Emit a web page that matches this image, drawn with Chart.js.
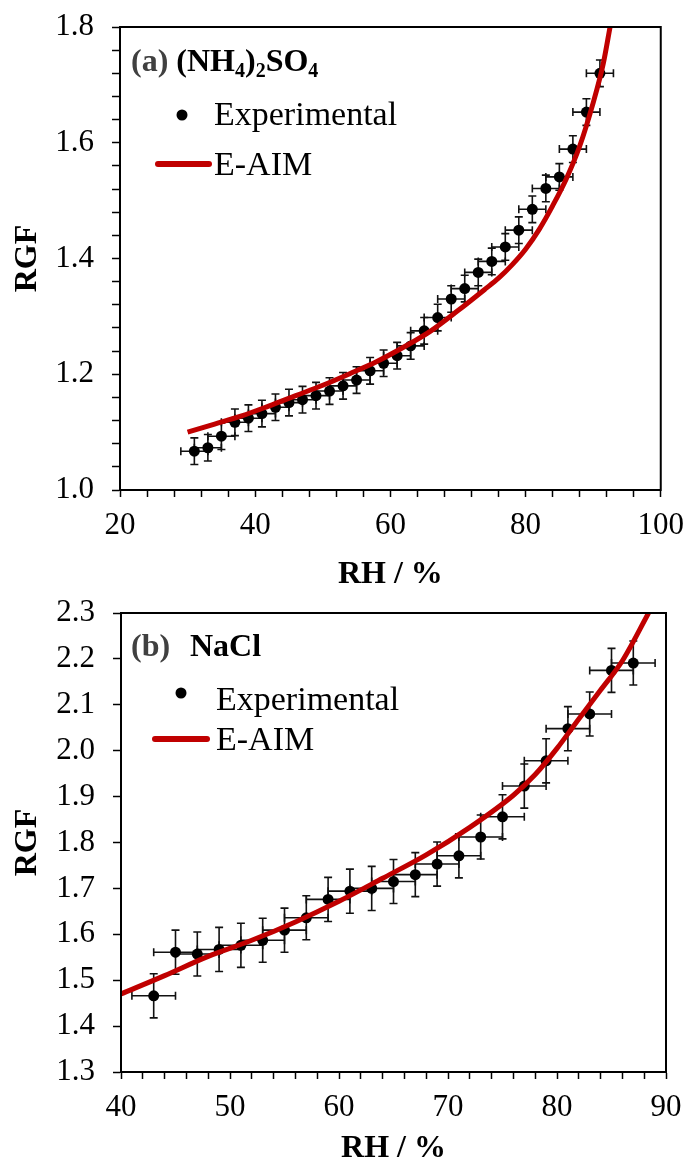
<!DOCTYPE html>
<html>
<head>
<meta charset="utf-8">
<script src="https://cdn.jsdelivr.net/npm/chart.js@4.4.1/dist/chart.umd.min.js"></script>
<style>
  html, body { margin: 0; padding: 0; background: #fff; }
  body { width: 694px; height: 1161px; position: relative; overflow: hidden; }
  canvas { position: absolute; left: 0; }
  #chartA { top: -30px; }
  #chartB { top: 560px; }
</style>
</head>
<body>
<canvas id="chartA" width="694" height="630"></canvas>
<canvas id="chartB" width="694" height="620"></canvas>
<script>
// (a) (NH4)2SO4 - measured points
const rhA = [31, 33, 35, 37, 39, 41, 43, 45, 47, 49, 51, 53, 55, 57, 59, 61,
             63, 65, 67, 69, 71, 73, 75, 77, 79, 81, 83, 85, 87, 89, 91];
const rgfA = [1.067, 1.073, 1.093, 1.117, 1.124, 1.132, 1.143, 1.151, 1.156, 1.163, 1.171,
              1.180, 1.190, 1.206, 1.219, 1.232, 1.249, 1.275, 1.298, 1.330, 1.348, 1.376,
              1.395, 1.420, 1.449, 1.485, 1.521, 1.541, 1.589, 1.653, 1.720];
// (a) E-AIM model curve
const modelRhA = [30, 34, 38, 42, 46, 50, 54, 58, 62, 66, 70, 74, 76, 78, 80, 82, 84, 86, 88, 90, 91.5, 92.5];
const modelRgfA = [1.100, 1.114, 1.128, 1.145, 1.163, 1.181, 1.201, 1.222, 1.247, 1.275,
                   1.310, 1.347, 1.366, 1.389, 1.416, 1.450, 1.491, 1.537, 1.594, 1.669, 1.737, 1.800];

// (b) NaCl - measured points
const rhB = [43, 45, 47, 49, 51, 53, 55, 57, 59, 61, 63, 65, 67, 69, 71, 73, 75, 77, 79, 81, 83, 85, 87];
const rgfB = [1.466, 1.561, 1.557, 1.567, 1.576, 1.587, 1.609, 1.636, 1.676, 1.694, 1.700, 1.715,
              1.730, 1.753, 1.771, 1.812, 1.856, 1.923, 1.978, 2.048, 2.080, 2.175, 2.191];
// (b) E-AIM model curve
const modelRhB = [40, 44, 48, 52, 56, 60, 64, 68, 72, 76, 78, 80, 82, 84, 86, 88.4];
const modelRgfB = [1.470, 1.510, 1.552, 1.587, 1.627, 1.672, 1.722, 1.773, 1.833, 1.903,
                   1.948, 2.005, 2.069, 2.132, 2.196, 2.300];

// error bar half widths
const errA = { rh: 2, rgf: 0.023 };
const errB = { rh: 2, rgf: 0.048 };

// labelled ticks
const xTicksA = [20, 40, 60, 80, 100];
const yTicksA = [1.0, 1.2, 1.4, 1.6, 1.8];
const xTicksB = [40, 50, 60, 70, 80, 90];
const yTicksB = [1.3, 1.4, 1.5, 1.6, 1.7, 1.8, 1.9, 2.0, 2.1, 2.2, 2.3];

const RED = "#C00000";
const SERIF = "Liberation Serif";

// 눈금 라벨: 목록에 있는 값만 표시
function tickLabel(list, digits) {
    return v => list.some(t => Math.abs(t - v) < 1e-6) ? Number(v).toFixed(digits) : "";
}

const errorBarPlugin = {
    id: "errorBars",
    beforeDatasetsDraw(chart, args, opts) {
        const { ctx, scales: { x, y } } = chart;
        const pts = chart.data.datasets[opts.dataset].data;
        const c = opts.cap;
        ctx.save();
        ctx.strokeStyle = opts.color;
        ctx.lineWidth = 1.6;
        pts.forEach(pt => {
            const px = x.getPixelForValue(pt.x);
            const py = y.getPixelForValue(pt.y);
            const x0 = x.getPixelForValue(pt.x - opts.xErr);
            const x1 = x.getPixelForValue(pt.x + opts.xErr);
            const y0 = y.getPixelForValue(pt.y - opts.yErr);
            const y1 = y.getPixelForValue(pt.y + opts.yErr);
            ctx.beginPath();
            ctx.moveTo(x0, py); ctx.lineTo(x1, py);
            ctx.moveTo(px, y0); ctx.lineTo(px, y1);
            ctx.moveTo(x0, py - c); ctx.lineTo(x0, py + c);
            ctx.moveTo(x1, py - c); ctx.lineTo(x1, py + c);
            ctx.moveTo(px - c, y0); ctx.lineTo(px + c, y0);
            ctx.moveTo(px - c, y1); ctx.lineTo(px + c, y1);
            ctx.stroke();
        });
        ctx.restore();
    }
};

// 네 변 테두리
const framePlugin = {
    id: "frame",
    afterDraw(chart) {
        const { ctx, chartArea: a } = chart;
        ctx.save();
        ctx.strokeStyle = "#000";
        ctx.lineWidth = 2;
        ctx.strokeRect(a.left, a.top, a.right - a.left, a.bottom - a.top);
        ctx.restore();
    }
};

// 패널 제목 + 범례
const panelTextPlugin = {
    id: "panelText",
    afterDraw(chart, args, opts) {
        const ctx = chart.ctx;
        ctx.save();
        ctx.textBaseline = "alphabetic";
        ctx.textAlign = "left";
        let x = opts.title.x;
        opts.title.parts.forEach(p => {
            if (p.x !== undefined) x = p.x;
            ctx.font = p.font;
            ctx.fillStyle = p.color || "#000";
            ctx.fillText(p.text, x, opts.title.y + (p.dy || 0));
            x += ctx.measureText(p.text).width;
        });

        const lg = opts.legend;
        const sets = chart.data.datasets;
        ctx.font = `34px "${SERIF}"`;
        ctx.fillStyle = "#000";
        ctx.beginPath();
        ctx.arc(lg.dotX, lg.dotY, 5.5, 0, Math.PI * 2);
        ctx.fill();
        ctx.fillText(sets[1].label, lg.textX, lg.expY);

        ctx.strokeStyle = RED;
        ctx.lineWidth = 6;
        ctx.lineCap = "round";
        ctx.beginPath();
        ctx.moveTo(lg.lineX0, lg.lineY);
        ctx.lineTo(lg.lineX1, lg.lineY);
        ctx.stroke();
        ctx.fillText(sets[0].label, lg.textX, lg.aimY);
        ctx.restore();
    }
};

function makeChart(id, p) {
    const ctx = document.getElementById(id).getContext("2d");
    const tickFont = { family: SERIF, size: 31 };
    const titleFont = { family: SERIF, size: 32, weight: "bold" };
    return new Chart(ctx, {
        type: "scatter",
        data: {
            datasets: [
                {
                    label: "E-AIM",
                    data: p.modelRh.map((x, i) => ({ x, y: p.modelRgf[i] })),
                    showLine: true,
                    borderColor: RED,
                    borderWidth: 5,
                    pointRadius: 0,
                    cubicInterpolationMode: "monotone",
                    order: 0
                },
                {
                    label: "Experimental",
                    data: p.rh.map((x, i) => ({ x, y: p.rgf[i] })),
                    pointRadius: 5.5,
                    backgroundColor: "#000",
                    borderColor: "#000",
                    borderWidth: 0,
                    order: 1
                }
            ]
        },
        options: {
            responsive: false,
            animation: false,
            events: [],
            layout: { padding: p.padding },
            plugins: {
                legend: { display: false },
                tooltip: { enabled: false },
                errorBars: { dataset: 1, xErr: p.err.rh, yErr: p.err.rgf, cap: 4, color: "#111" },
                panelText: { title: p.title, legend: p.legend }
            },
            scales: {
                x: {
                    type: "linear",
                    min: p.xMin, max: p.xMax,
                    ticks: {
                        stepSize: p.xStep, autoSkip: false, maxRotation: 0, maxTicksLimit: 100,
                        font: tickFont, color: "#000", padding: 10,
                        callback: tickLabel(p.xTicks, 0)
                    },
                    grid: { drawOnChartArea: false, tickLength: 7, tickColor: "#000", tickWidth: 1.5 },
                    border: { color: "#000", width: 2 },
                    title: { display: true, text: "RH / %", font: titleFont, color: "#000", padding: { top: 0, bottom: p.xTitlePad } },
                    afterFit: s => { s.height = p.xAxisHeight; }
                },
                y: {
                    type: "linear",
                    min: p.yMin, max: p.yMax,
                    ticks: {
                        stepSize: p.yStep, autoSkip: false, maxTicksLimit: 100,
                        font: tickFont, color: "#000", padding: 18,
                        callback: tickLabel(p.yTicks, 1)
                    },
                    grid: { drawOnChartArea: false, tickLength: 8, tickColor: "#000", tickWidth: 1.5 },
                    border: { color: "#000", width: 2 },
                    title: { display: true, text: "RGF", font: titleFont, color: "#000", padding: { top: 9, bottom: 0 } },
                    afterFit: s => { s.width = p.yAxisWidth; }
                }
            }
        },
        plugins: [errorBarPlugin, framePlugin, panelTextPlugin]
    });
}

const boldT = `bold 32px "${SERIF}"`;
const boldSub = `bold 20px "${SERIF}"`;

// chartA canvas starts 30px above the page
makeChart("chartA", {
    rh: rhA, rgf: rgfA, modelRh: modelRhA, modelRgf: modelRgfA, err: errA,
    xMin: 20, xMax: 100, xStep: 4, xTicks: xTicksA,
    yMin: 1.0, yMax: 1.8, yStep: 0.04, yTicks: yTicksA,
    padding: { top: 57, right: 28, left: 0, bottom: 0 },
    yAxisWidth: 120, xAxisHeight: 110, xTitlePad: 6,
    title: {
        x: 131, y: 101,
        parts: [
            { text: "(a) ", font: boldT, color: "#404040" },
            { text: "(NH", font: boldT },
            { text: "4", font: boldSub, dy: 6 },
            { text: ")", font: boldT },
            { text: "2", font: boldSub, dy: 6 },
            { text: "SO", font: boldT },
            { text: "4", font: boldSub, dy: 6 }
        ]
    },
    legend: { dotX: 182, dotY: 145, textX: 214, expY: 155, lineX0: 158, lineX1: 209, lineY: 194, aimY: 205 }
});

// chartB canvas starts at page y = 560
makeChart("chartB", {
    rh: rhB, rgf: rgfB, modelRh: modelRhB, modelRgf: modelRgfB, err: errB,
    xMin: 40, xMax: 90, xStep: 2, xTicks: xTicksB,
    yMin: 1.3, yMax: 2.3, yStep: 0.1, yTicks: yTicksB,
    padding: { top: 53, right: 28, left: 0, bottom: 0 },
    yAxisWidth: 121, xAxisHeight: 108, xTitlePad: 12,
    title: {
        x: 131, y: 96,
        parts: [
            { text: "(b)", font: boldT, color: "#404040" },
            { text: "NaCl", font: boldT, x: 190 }
        ]
    },
    legend: { dotX: 181, dotY: 133, textX: 216, expY: 150, lineX0: 155, lineX1: 207, lineY: 179, aimY: 190 }
});
</script>
</body>
</html>
